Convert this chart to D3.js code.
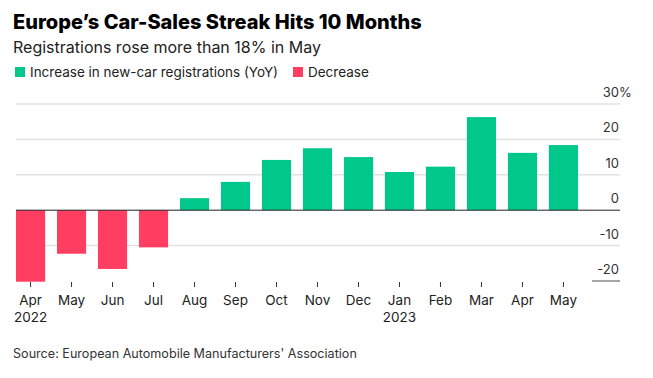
<!DOCTYPE html>
<html>
<head>
<meta charset="utf-8">
<script src="https://cdn.jsdelivr.net/npm/d3@7"></script>
<style>
  body { margin: 0; background: #fff; }
  svg { font-family: Inter, 'Liberation Sans', Arial, sans-serif; }
</style>
</head>
<body>
<svg width="653" height="378"></svg>
<script>
// --- data ---
const months = ['Apr', 'May', 'Jun', 'Jul', 'Aug', 'Sep', 'Oct', 'Nov', 'Dec', 'Jan', 'Feb', 'Mar', 'Apr', 'May'];
const years = ['2022', '', '', '', '', '', '', '', '', '2023', '', '', '', ''];
const changes = [-20.2, -12.3, -16.6, -10.5, 3.4, 8.0, 14.2, 17.5, 15.0, 10.8, 12.3, 26.3, 16.2, 18.4];
const yTicks = [30, 20, 10, 0, -10, -20];

const GREEN = '#00c78a';
const RED = '#ff3e62';

const svg = d3.select('svg');
const keys = months.map((m, i) => i);

const x = d3.scaleBand().domain(keys).range([16, 578]).paddingInner(0.29).paddingOuter(0);
const y = d3.scaleLinear().domain([-20, 30]).range([281, 104]);
const gridLeft = 16;
const gridRight = 620;

// title block
svg.append('text')
  .attr('x', 13).attr('y', 29)
  .attr('font-size', 20).attr('font-weight', 800).attr('fill', '#000')
  .text('Europe\u2019s Car-Sales Streak Hits 10 Months');

svg.append('text')
  .attr('x', 13).attr('y', 53)
  .attr('font-size', 16).attr('fill', '#222')
  .text('Registrations rose more than 18% in May');

// legend
const legend = [
  { label: 'Increase in new-car registrations (YoY)', color: GREEN, x: 15 },
  { label: 'Decrease', color: RED, x: 293 }
];
const lg = svg.append('g').selectAll('g').data(legend).join('g')
  .attr('transform', d => `translate(${d.x},67)`);
lg.append('rect').attr('width', 10).attr('height', 10).attr('fill', d => d.color);
lg.append('text').attr('x', 15).attr('y', 10)
  .attr('font-size', 13.5).attr('fill', '#222')
  .text(d => d.label);

// gridlines
const g = svg.append('g');
g.selectAll('line.grid')
  .data(yTicks.filter(t => t !== 0 && t !== -20))
  .join('line')
  .attr('class', 'grid')
  .attr('x1', gridLeft).attr('x2', gridRight)
  .attr('y1', d => y(d)).attr('y2', d => y(d))
  .attr('stroke', '#e2e2e2').attr('stroke-width', 1.5);

// bottom axis stub
g.append('line')
  .attr('x1', 592).attr('x2', gridRight)
  .attr('y1', y(-20)).attr('y2', y(-20))
  .attr('stroke', '#888').attr('stroke-width', 1.5);

// bars
g.selectAll('rect.bar')
  .data(changes)
  .join('rect')
  .attr('class', 'bar')
  .attr('x', (d, i) => x(i))
  .attr('width', x.bandwidth())
  .attr('y', d => y(Math.max(0, d)))
  .attr('height', d => Math.abs(y(d) - y(0)))
  .attr('fill', d => (d >= 0 ? GREEN : RED));

// zero line
g.append('line')
  .attr('x1', gridLeft).attr('x2', gridRight)
  .attr('y1', y(0)).attr('y2', y(0))
  .attr('stroke', '#222').attr('stroke-width', 1);

// y labels
const yl = svg.append('g').attr('font-size', 13).attr('fill', '#333');
yl.selectAll('text')
  .data(yTicks)
  .join('text')
  .attr('x', 619)
  .attr('y', d => y(d) - 7)
  .attr('text-anchor', 'end')
  .text(d => d);
yl.append('text')
  .attr('x', 619).attr('y', y(30) - 7)
  .text('%');

// x ticks and labels
const xa = svg.append('g');
xa.selectAll('line')
  .data(keys)
  .join('line')
  .attr('x1', d => x(d) + x.bandwidth() / 2)
  .attr('x2', d => x(d) + x.bandwidth() / 2)
  .attr('y1', 282).attr('y2', 287)
  .attr('stroke', '#333').attr('stroke-width', 1);

xa.selectAll('text.month')
  .data(keys)
  .join('text')
  .attr('class', 'month')
  .attr('x', d => x(d) + x.bandwidth() / 2)
  .attr('y', 305)
  .attr('text-anchor', 'middle')
  .attr('font-size', 13.5).attr('fill', '#222')
  .text(d => months[d]);

xa.selectAll('text.year')
  .data(keys.filter(d => years[d]))
  .join('text')
  .attr('class', 'year')
  .attr('x', d => x(d) + x.bandwidth() / 2)
  .attr('y', 322)
  .attr('text-anchor', 'middle')
  .attr('font-size', 13.5).attr('fill', '#222')
  .text(d => years[d]);

// source
svg.append('text')
  .attr('x', 13).attr('y', 358)
  .attr('font-size', 12.6).attr('fill', '#333')
  .text("Source: European Automobile Manufacturers' Association");
</script>
</body>
</html>
